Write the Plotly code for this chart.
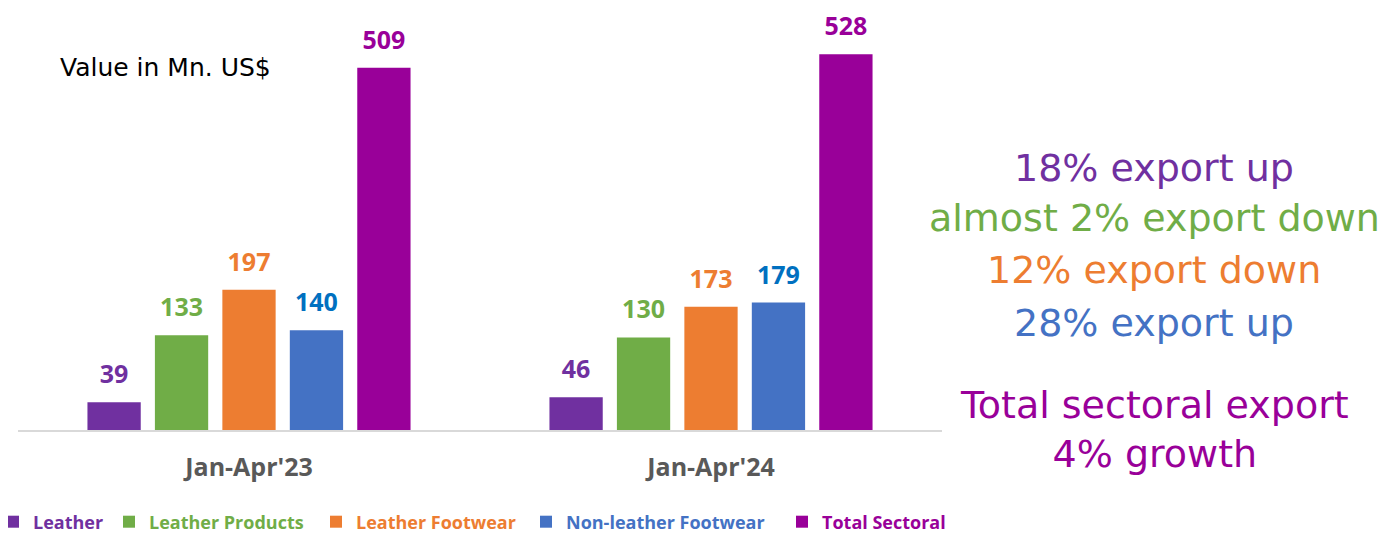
import plotly.graph_objects as go

periods = ["Jan-Apr'23", "Jan-Apr'24"]
series_names = ["Leather", "Leather Products", "Leather Footwear", "Non-leather Footwear", "Total Sectoral"]
leather = [39, 46]
leather_products = [133, 130]
leather_footwear = [197, 173]
non_leather_footwear = [140, 179]
total_sectoral = [509, 528]
values = [leather, leather_products, leather_footwear, non_leather_footwear, total_sectoral]

notes = [
    "18% export up",
    "almost 2% export down",
    "12% export down",
    "28% export up",
    "Total sectoral export<br>4% growth",
]

# styling / layout constants
BAR_COLORS = ["#7030A0", "#70AD47", "#ED7D31", "#4472C4", "#990099"]
LABEL_COLORS = ["#7030A0", "#70AD47", "#ED7D31", "#0070C0", "#990099"]
NOTE_COLORS = ["#7030A0", "#70AD47", "#ED7D31", "#4472C4", "#990099"]
NOTE_Y_PX = [168, 218, 270, 323, 429]
LEGEND_X_PX = [14, 130, 337, 547, 803]

BOLD = "Open Sans"
OFF = 8
W, H = 1398 - OFF, 537 - OFF
L, R, T, B = 10, 456, 2, 107
pw, ph = W - L - R, H - T - B

def px(xp):
    return (xp - OFF - L) / pw

def py(yp):
    return (H - B - (yp - OFF)) / ph

fig = go.Figure()
legends = {}
for i, (name, vals, bc, lc) in enumerate(zip(series_names, values, BAR_COLORS, LABEL_COLORS)):
    lname = "legend" if i == 0 else f"legend{i + 1}"
    fig.add_trace(go.Bar(
        x=periods, y=vals,
        name=f"<span style='color:{bc}'><b>{name}</b></span>",
        legend=lname,
        marker=dict(color=bc, line=dict(width=0)),
        text=vals, textposition="outside",
        texttemplate="<span style='font-size:25px'><b>%{y}</b></span><br> ",
        textfont=dict(family=BOLD, size=10, color=lc),
        cliponaxis=False,
    ))
    legends[lname] = dict(
        orientation="h", xref="paper",
        x=px(LEGEND_X_PX[i] - 21), y=py(522),
        xanchor="left", yanchor="middle",
        font=dict(family=BOLD, size=18), itemclick=False,
        bgcolor="rgba(0,0,0,0)",
    )

fig.add_annotation(text="Value in Mn. US$", xref="paper", yref="paper",
                   x=px(58), y=py(68), xanchor="left", yanchor="middle",
                   showarrow=False, font=dict(family="DejaVu Sans", size=25, color="#000000"))

for txt, col, yy in zip(notes, NOTE_COLORS, NOTE_Y_PX):
    fig.add_annotation(text=txt, xref="paper", yref="paper",
                       x=px(1154), y=py(yy), xanchor="center", yanchor="middle",
                       showarrow=False, align="center",
                       font=dict(family="DejaVu Sans", size=38, color=col))

fig.update_layout(
    width=W, height=H,
    margin=dict(l=L, r=R, t=T, b=B, autoexpand=False),
    barmode="group", bargap=0.27, bargroupgap=0.21,
    plot_bgcolor="white", paper_bgcolor="white",
    showlegend=True,
    xaxis=dict(showline=True, linecolor="#D9D9D9", linewidth=2, showgrid=False,
               tickfont=dict(family=BOLD, size=25, color="#595959"),
               tickprefix="<b>", ticksuffix="</b>", ticklabelstandoff=14),
    yaxis=dict(range=[0, 590], visible=False, showgrid=False, zeroline=False),
    **legends,
)

fig.write_html("out.html")
